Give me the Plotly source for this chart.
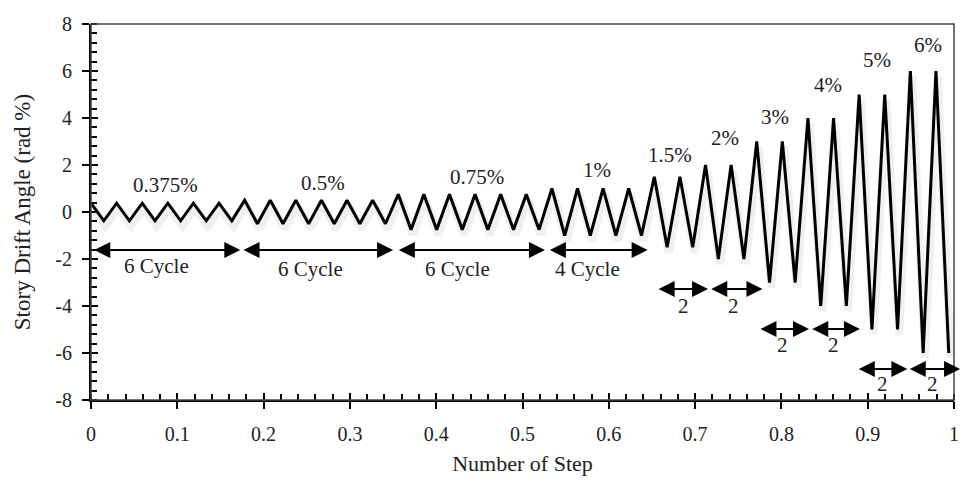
import plotly.graph_objects as go

# ---- data ----
amplitudes = [0.375, 0.5, 0.75, 1, 1.5, 2, 3, 4, 5, 6]   # drift amplitude, rad %
cycles = [6, 6, 6, 4, 2, 2, 2, 2, 2, 2]                  # cycles per amplitude
cycle_length = 0.02967                                   # normalized step length of one cycle
amp_labels = ["0.375%", "0.5%", "0.75%", "1%", "1.5%", "2%", "3%", "4%", "5%", "6%"]
x_tick_vals = [0, 0.1, 0.2, 0.3, 0.4, 0.5, 0.6, 0.7, 0.8, 0.9, 1]
x_tick_text = ["0", "0.1", "0.2", "0.3", "0.4", "0.5", "0.6", "0.7", "0.8", "0.9", "1"]
y_tick_vals = [-8, -6, -4, -2, 0, 2, 4, 6, 8]
y_tick_text = ["-8", "-6", "-4", "-2", "0", "2", "4", "6", "8"]

# build the triangular loading history (peak then trough for each cycle)
xs, ys = [], []
k = 0
for a, n in zip(amplitudes, cycles):
    for _ in range(n):
        xs.append(k * cycle_length); ys.append(a)
        xs.append((k + 0.5) * cycle_length); ys.append(-a)
        k += 1

FONT = "Liberation Serif"
TXT = "#222"

fig = go.Figure()
# soft shadow under the line
fig.add_trace(go.Scatter(x=[x + 0.002 for x in xs], y=[y - 0.22 for y in ys], mode="lines",
                         line=dict(color="rgba(0,0,0,0.06)", width=8), hoverinfo="skip",
                         showlegend=False))
fig.add_trace(go.Scatter(x=xs, y=ys, mode="lines", line=dict(color="black", width=3),
                         showlegend=False))

# amplitude labels
amp_label_pos = [(0.086, 1.15), (0.269, 1.23), (0.447, 1.49), (0.586, 1.79), (0.671, 2.43),
                 (0.735, 3.15), (0.793, 4.04), (0.854, 5.4), (0.911, 6.47), (0.970, 7.1)]
for t, (x, y) in zip(amp_labels, amp_label_pos):
    fig.add_annotation(x=x, y=y, text=t, showarrow=False, font=dict(family=FONT, size=21, color=TXT))

# double-headed arrows for cycle groups
spans = [
    (0.002, 0.173, -1.62, "6 Cycle", 0.076, -2.3),
    (0.175, 0.350, -1.62, "6 Cycle", 0.254, -2.42),
    (0.355, 0.526, -1.62, "6 Cycle", 0.425, -2.42),
    (0.530, 0.645, -1.62, "4 Cycle", 0.575, -2.42),
    (0.656, 0.715, -3.28, "2", 0.686, -4.0),
    (0.717, 0.778, -3.28, "2", 0.745, -4.0),
    (0.774, 0.832, -4.98, "2", 0.801, -5.66),
    (0.834, 0.891, -4.98, "2", 0.860, -5.66),
    (0.888, 0.946, -6.68, "2", 0.917, -7.32),
    (0.947, 1.007, -6.68, "2", 0.975, -7.32),
]
for x0, x1, ya, txt, tx, ty in spans:
    fig.add_annotation(x=x1, y=ya, ax=x0, ay=ya, xref="x", yref="y", axref="x", ayref="y",
                       text="", showarrow=True, arrowhead=2, arrowside="end+start",
                       arrowsize=1.6, arrowwidth=2, arrowcolor="black", standoff=0, startstandoff=0)
    fig.add_annotation(x=tx, y=ty, text=txt, showarrow=False,
                       font=dict(family=FONT, size=21, color=TXT))

# frame
fig.add_shape(type="rect", xref="paper", yref="paper", x0=0, y0=0, x1=1, y1=1,
              line=dict(color="#444", width=1.5), layer="above")

axis_common = dict(showgrid=False, zeroline=False, showline=True, linecolor="black", linewidth=2,
                   tickcolor="black", tickwidth=2, ticklen=7, ticks="outside", automargin=False,
                   tickfont=dict(family=FONT, size=20, color=TXT))
fig.update_layout(
    width=966, height=482, margin=dict(l=91, r=12, t=24, b=82),
    plot_bgcolor="white", paper_bgcolor="white",
    xaxis=dict(range=[0, 1], tickvals=x_tick_vals, ticktext=x_tick_text, ticklabelstandoff=8,
               minor=dict(dtick=0.02, tick0=0, ticks="inside", ticklen=6, tickwidth=2, tickcolor="black"),
               title=dict(text="Number of Step", font=dict(family=FONT, size=22, color=TXT), standoff=12),
               **axis_common),
    yaxis=dict(range=[-8, 8], tickvals=y_tick_vals, ticktext=y_tick_text, ticklabelstandoff=6,
               minor=dict(dtick=0.4, tick0=0, ticks="inside", ticklen=6, tickwidth=2, tickcolor="black"),
               title=dict(text="Story Drift Angle (rad %)", font=dict(family=FONT, size=23, color=TXT), standoff=18),
               **axis_common),
    xaxis2=dict(overlaying="x", matches="x", range=[0, 1], tickvals=x_tick_vals, showticklabels=False,
                ticks="inside", ticklen=7, tickwidth=2, tickcolor="black", showgrid=False,
                zeroline=False, showline=False, anchor="y", side="bottom", automargin=False),
    yaxis2=dict(overlaying="y", matches="y", range=[-8, 8], tickvals=y_tick_vals, showticklabels=False,
                ticks="inside", ticklen=7, tickwidth=2, tickcolor="black", showgrid=False,
                zeroline=False, showline=False, anchor="x", side="left", automargin=False),
)
# invisible trace to activate overlay axes
fig.add_trace(go.Scatter(x=[0], y=[0], xaxis="x2", yaxis="y2", mode="markers",
                         marker=dict(opacity=0), hoverinfo="skip", showlegend=False))

fig.write_html("out.html", config={"responsive": False, "displayModeBar": False},
               post_script="document.body.style.margin='0';document.body.style.overflow='hidden';")
